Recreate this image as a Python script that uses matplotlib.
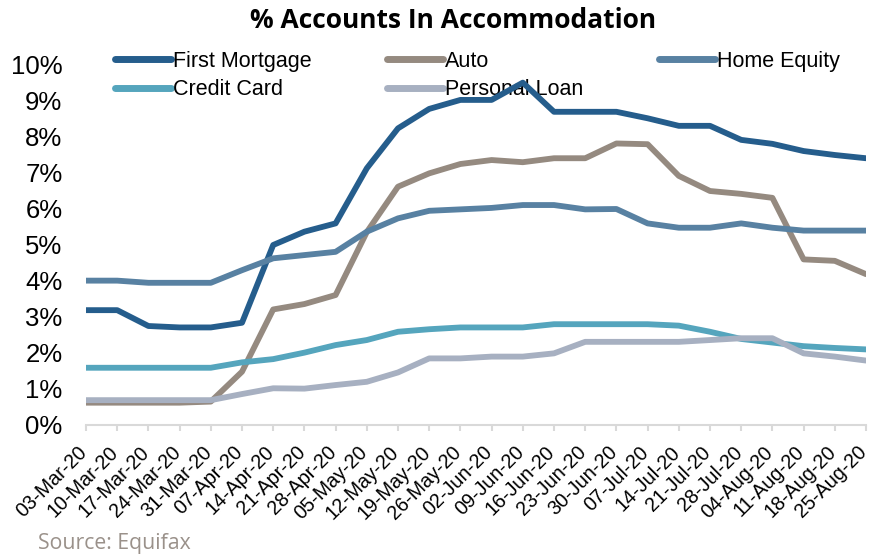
import matplotlib
matplotlib.use("Agg")
import matplotlib.pyplot as plt
from matplotlib.transforms import ScaledTranslation

dates = ["03-Mar-20", "10-Mar-20", "17-Mar-20", "24-Mar-20", "31-Mar-20", "07-Apr-20",
         "14-Apr-20", "21-Apr-20", "28-Apr-20", "05-May-20", "12-May-20", "19-May-20",
         "26-May-20", "02-Jun-20", "09-Jun-20", "16-Jun-20", "23-Jun-20", "30-Jun-20",
         "07-Jul-20", "14-Jul-20", "21-Jul-20", "28-Jul-20", "04-Aug-20", "11-Aug-20",
         "18-Aug-20", "25-Aug-20"]

first_mortgage = [3.19, 3.19, 2.75, 2.71, 2.71, 2.84, 5.00, 5.37, 5.60, 7.13, 8.24, 8.78,
                  9.03, 9.03, 9.51, 8.70, 8.70, 8.70, 8.52, 8.31, 8.31, 7.92, 7.81, 7.61,
                  7.50, 7.41]
auto = [0.62, 0.62, 0.62, 0.62, 0.65, 1.48, 3.21, 3.36, 3.61, 5.36, 6.62, 6.99,
        7.25, 7.36, 7.30, 7.41, 7.41, 7.82, 7.80, 6.92, 6.50, 6.42, 6.31, 4.60,
        4.56, 4.19]
home_equity = [4.01, 4.01, 3.95, 3.95, 3.95, 4.30, 4.63, 4.72, 4.81, 5.37, 5.74, 5.95,
               5.99, 6.03, 6.11, 6.11, 5.99, 6.00, 5.60, 5.48, 5.48, 5.60, 5.48, 5.40,
               5.40, 5.40]
credit_card = [1.59, 1.59, 1.59, 1.59, 1.59, 1.74, 1.83, 2.01, 2.22, 2.36, 2.59, 2.66,
               2.71, 2.71, 2.71, 2.80, 2.80, 2.80, 2.80, 2.76, 2.59, 2.39, 2.29, 2.19,
               2.14, 2.10]
personal_loan = [0.69, 0.69, 0.69, 0.69, 0.69, 0.86, 1.02, 1.01, 1.11, 1.20, 1.46, 1.85,
                 1.85, 1.90, 1.90, 1.99, 2.31, 2.31, 2.31, 2.31, 2.36, 2.41, 2.41, 1.99,
                 1.90, 1.79]

series = [
    ("First Mortgage", first_mortgage, "#255d8c"),
    ("Auto", auto, "#958a80"),
    ("Home Equity", home_equity, "#5881a2"),
    ("Credit Card", credit_card, "#55a5bd"),
    ("Personal Loan", personal_loan, "#a7b0c1"),
]

fig = plt.figure(figsize=(8.71, 5.54), dpi=100)
ax = fig.add_axes([86/871, 1-425/554, (866-86)/871, (425-65)/554])

x = list(range(len(dates)))
handles = {}
for name, vals, col in series:
    ln, = ax.plot(x, vals, color=col, lw=4.2, label=name, solid_capstyle='round',
                  solid_joinstyle='round', zorder=3)
    handles[name] = ln

ax.set_xlim(0, len(dates) - 1)
ax.set_ylim(0, 10)
ax.set_yticks(range(0, 11))
ax.set_yticklabels([f"{v}%" for v in range(0, 11)], fontsize=18.5, family="Liberation Sans")
ax.set_xticks(x)
ax.set_xticklabels(dates, rotation=45, ha='right', va='center', rotation_mode='anchor',
                   fontsize=14.2, family="Liberation Sans")
ax.tick_params(axis='y', length=0, pad=17)
ax.tick_params(axis='x', length=4.5, width=1.5, color='#d9d9d9', pad=13)
offset = ScaledTranslation(-2/100, 0, fig.dpi_scale_trans)
for lab in ax.get_xticklabels():
    lab.set_transform(lab.get_transform() + offset)
for s in ['top', 'right', 'left']:
    ax.spines[s].set_visible(False)
ax.spines['bottom'].set_color('#d9d9d9')
ax.spines['bottom'].set_linewidth(1.5)
ax.spines['bottom'].set_zorder(1)

order = ["First Mortgage", "Credit Card", "Auto", "Personal Loan", "Home Equity"]
leg = ax.legend([handles[n] for n in order], order,
                loc='upper left', bbox_to_anchor=(115/871, 1-51/554),
                bbox_transform=fig.transFigure, ncol=3, frameon=False,
                prop={'family': 'Liberation Sans', 'size': 15.5},
                handlelength=2.6, handletextpad=0.1, columnspacing=3.5,
                labelspacing=0.33, borderpad=0, borderaxespad=0)
for h in leg.get_lines():
    h.set_linewidth(5)
    h.set_solid_capstyle('round')
leg.set_zorder(1)

fig.text(453/871, 1-21/554, "% Accounts In Accommodation", ha='center', va='center',
         fontsize=19, fontweight='bold', family="Open Sans")
fig.text(38/871, 1-543/554, "Source: Equifax", ha='left', va='center',
         fontsize=15.3, color='#9a918a', family="Open Sans")

fig.savefig("out.png", dpi=100)
